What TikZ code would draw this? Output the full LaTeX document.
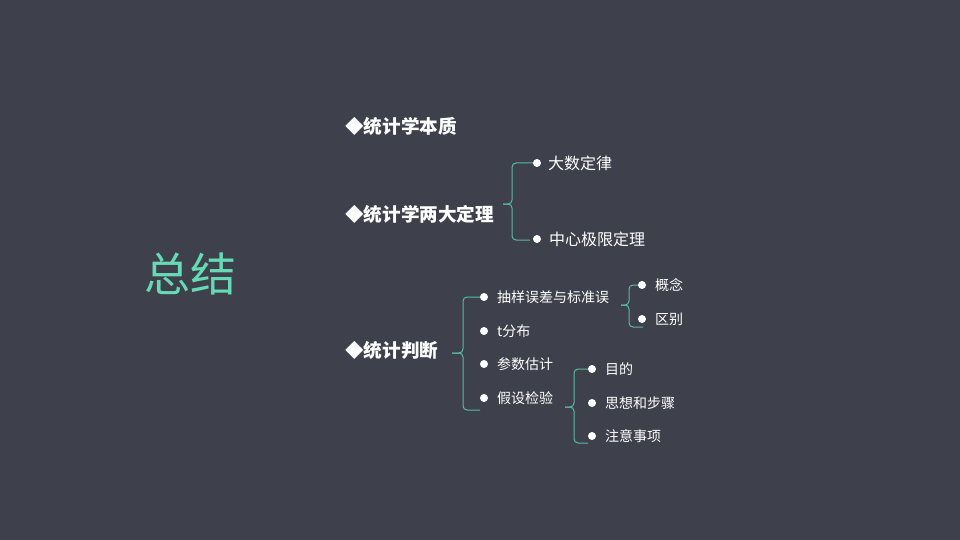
\documentclass[tikz,border=0pt]{standalone}
\usepackage{fontspec}
\newfontfamily\cjk{Noto Sans CJK SC}
\definecolor{slate}{RGB}{62,65,75}
\definecolor{mint}{RGB}{102,217,181}
\definecolor{bracecol}{RGB}{88,186,160}
\tikzset{
  topic/.style={anchor=west,inner sep=0pt,text=white,font=\cjk\bfseries\fontsize{18.6}{19}\selectfont},
  item/.style={anchor=west,inner sep=0pt,text=white,font=\cjk\fontsize{16}{16}\selectfont},
  subitem/.style={anchor=west,inner sep=0pt,text=white,font=\cjk\fontsize{14}{14}\selectfont},
  dot/.style={circle,fill=white,inner sep=0pt,minimum size=8pt},
  brace/.style={draw=bracecol,line width=1pt,rounded corners=4pt}
}
\begin{document}
\begin{tikzpicture}[x=1pt,y=-1pt]
                    \fill[slate] (0,0) rectangle (960,540);

                    \node[text=mint,font=\cjk\fontsize{46}{46}\selectfont] (title) at (190,274) {总结};

                    \node[topic] (essence) at (345,126) {◆统计学本质};
                    \node[topic] (theorems) at (345,214) {◆统计学两大定理};
                    \node[topic] (inference) at (345,350) {◆统计判断};

                    \node[dot] (dlaw) at (537,163) {};
                    \node[item] (law) at (548,163) {大数定律};
                    \node[dot] (dclt) at (537,239) {};
                    \node[item] (clt) at (549,239) {中心极限定理};
                    \coordinate (tipA) at (503,204);
                    \coordinate (botA) at (530,240);
                    \draw[brace] (tipA) -- ++(9,0) |- (dlaw.west);
                    \draw[brace] (tipA) -- ++(9,0) |- (botA);

                    \node[dot] (derr) at (484,297) {};
                    \node[subitem] (err) at (497,297) {抽样误差与标准误};
                    \node[dot] (dt) at (484,331) {};
                    \node[subitem] (tdist) at (497,331) {t分布};
                    \node[dot] (dest) at (484,364) {};
                    \node[subitem] (est) at (497,364) {参数估计};
                    \node[dot] (dtest) at (484,398) {};
                    \node[subitem] (test) at (497,398) {假设检验};
                    \coordinate (tipB) at (452,353);
                    \coordinate (topB) at (480,297);
                    \coordinate (botB) at (480,410);
                    \draw[brace] (tipB) -- ++(11,0) |- (topB);
                    \draw[brace] (tipB) -- ++(11,0) |- (botB);

                    \node[dot] (dconcept) at (642,285) {};
                    \node[subitem] (concept) at (655,285) {概念};
                    \node[dot] (ddiff) at (642,319) {};
                    \node[subitem] (diff) at (655,319) {区别};
                    \coordinate (tipC) at (621,305);
                    \coordinate (botC) at (643,327);
                    \draw[brace] (tipC) -- ++(8,0) |- (dconcept.west);
                    \draw[brace] (tipC) -- ++(8,0) |- (botC);

                    \node[dot] (daim) at (592,369) {};
                    \node[subitem] (aim) at (605,369) {目的};
                    \node[dot] (dsteps) at (592,403) {};
                    \node[subitem] (steps) at (605,403) {思想和步骤};
                    \node[dot] (dnote) at (592,436) {};
                    \node[subitem] (note) at (605,436) {注意事项};
                    \coordinate (tipD) at (565,407);
                    \coordinate (botD) at (588,443);
                    \draw[brace] (tipD) -- ++(9,0) |- (daim.west);
                    \draw[brace] (tipD) -- ++(9,0) |- (botD);

\end{tikzpicture}
\end{document}
